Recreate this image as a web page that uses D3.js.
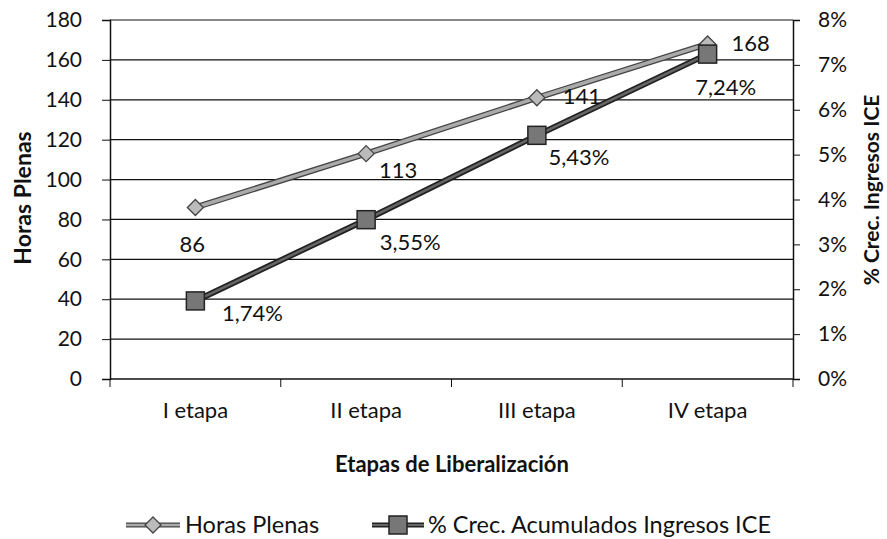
<!DOCTYPE html>
<html><head><meta charset="utf-8">
<script src="https://cdn.jsdelivr.net/npm/d3@7"></script>
<style>body{margin:0;background:#fff}svg{display:block}text{font-family:Lato,"Open Sans",sans-serif}</style>
</head><body><svg id="c" width="887" height="539"></svg>
<script>
const categories = ["I etapa","II etapa","III etapa","IV etapa"];
const horas = [86,113,141,168];
const crec = [1.74,3.55,5.43,7.24];
const crecLabels = ["1,74%","3,55%","5,43%","7,24%"];
const leftTicks = [0,20,40,60,80,100,120,140,160,180];
const rightTicks = [0,1,2,3,4,5,6,7,8];

const svg = d3.select("#c");
const L=110, R=793, T=20, B=379;
const FONT = "Lato, 'Open Sans', sans-serif";
const x = d3.scaleBand().domain(categories).range([L,R]);
const yL = d3.scaleLinear().domain([0,180]).range([B,T]);
const yR = d3.scaleLinear().domain([0,8]).range([B,T]);

// gridlines
svg.append("g").selectAll("line").data(leftTicks.slice(1)).join("line")
  .attr("x1",L).attr("x2",R).attr("y1",d=>yL(d)).attr("y2",d=>yL(d))
  .attr("stroke","#111").attr("stroke-width",1.2);

const axL = svg.append("g").attr("transform",`translate(${L},0)`)
  .call(d3.axisLeft(yL).tickValues(leftTicks).tickSize(8).tickPadding(20));
const axR = svg.append("g").attr("transform",`translate(${R},0)`)
  .call(d3.axisRight(yR).tickValues(rightTicks).tickSize(7).tickPadding(18).tickFormat(d=>d+"%"));
const axB = svg.append("g").attr("transform",`translate(0,${B})`)
  .call(d3.axisBottom(x).tickSize(0).tickPadding(23));
[axL,axR,axB].forEach(a=>{
  a.select(".domain").attr("stroke","#111").attr("stroke-width",1.5);
  a.selectAll(".tick line").attr("stroke","#111");
  a.selectAll("text").attr("font-size",21).attr("fill","#111").attr("font-family",FONT);
});
axB.selectAll("text").attr("font-size",22);
axB.select(".domain").attr("d",`M${L},0H${R}`);
// category separator ticks
svg.append("g").selectAll("line").data(categories.slice(1)).join("line")
  .attr("x1",d=>x(d)).attr("x2",d=>x(d)).attr("y1",B).attr("y2",B+8).attr("stroke","#111");
svg.append("g").selectAll("line").data([L,R]).join("line")
  .attr("x1",d=>d).attr("x2",d=>d).attr("y1",B).attr("y2",B+8).attr("stroke","#111");

const cx = d=>x(d)+x.bandwidth()/2;
const lineH = d3.line().x((d,i)=>cx(categories[i])).y(d=>yL(d));
const lineC = d3.line().x((d,i)=>cx(categories[i])).y(d=>yR(d));

svg.append("path").attr("d",lineH(horas)).attr("fill","none").attr("stroke","#444").attr("stroke-width",6);
svg.append("path").attr("d",lineH(horas)).attr("fill","none").attr("stroke","#aaa").attr("stroke-width",3.5);
svg.append("path").attr("d",lineC(crec)).attr("fill","none").attr("stroke","#222").attr("stroke-width",6);
svg.append("path").attr("d",lineC(crec)).attr("fill","none").attr("stroke","#666").attr("stroke-width",2.5);

const diamond = (g,px,py)=>g.append("path").attr("d",`M${px},${py-8}L${px+8},${py}L${px},${py+8}L${px-8},${py}Z`)
  .attr("fill","#bbb").attr("stroke","#444").attr("stroke-width",1.3);
const square = (g,px,py)=>g.append("rect").attr("x",px-9).attr("y",py-9).attr("width",18).attr("height",18)
  .attr("fill","#777").attr("stroke","#222").attr("stroke-width",1.5);

horas.forEach((v,i)=>diamond(svg,cx(categories[i]),yL(v)));
crec.forEach((v,i)=>square(svg,cx(categories[i]),yR(v)));

// data labels
const hLabOff = [[-3,37],[32,17],[45,-1],[43,-1]];
svg.append("g").selectAll("text").data(horas).join("text")
  .attr("x",(d,i)=>cx(categories[i])+hLabOff[i][0]).attr("y",(d,i)=>yL(d)+hLabOff[i][1])
  .attr("text-anchor","middle").attr("dy","0.35em")
  .attr("font-size",22).attr("fill","#111").text(d=>d);
const cLabOff = [[57,12],[44,23],[42,22],[18,33]];
svg.append("g").selectAll("text").data(crec).join("text")
  .attr("x",(d,i)=>cx(categories[i])+cLabOff[i][0]).attr("y",(d,i)=>yR(d)+cLabOff[i][1])
  .attr("text-anchor","middle").attr("dy","0.35em")
  .attr("font-size",22).attr("fill","#111").text((d,i)=>crecLabels[i]);

// titles
svg.append("text").attr("transform","translate(23,198) rotate(-90)").attr("text-anchor","middle").attr("dy","0.35em")
  .attr("font-size",23).attr("font-weight","bold").attr("fill","#111").text("Horas Plenas");
svg.append("text").attr("transform","translate(873,190) rotate(-90)").attr("text-anchor","middle").attr("dy","0.3em")
  .attr("font-size",21).attr("font-weight","bold").attr("fill","#111").text("% Crec. Ingresos ICE");
svg.append("text").attr("x",452).attr("y",472).attr("text-anchor","middle")
  .attr("font-size",22).attr("font-weight","bold").attr("fill","#111").text("Etapas de Liberalización");

// legend
const lg = svg.append("g");
const ly = 525;
lg.append("line").attr("x1",126).attr("x2",180).attr("y1",ly).attr("y2",ly).attr("stroke","#444").attr("stroke-width",5);
lg.append("line").attr("x1",126).attr("x2",180).attr("y1",ly).attr("y2",ly).attr("stroke","#aaa").attr("stroke-width",2.5);
diamond(lg,153,ly);
lg.append("text").attr("x",185).attr("y",ly).attr("dy","0.35em").attr("font-size",23.5).attr("fill","#111").text("Horas Plenas");
lg.append("line").attr("x1",372).attr("x2",424).attr("y1",ly).attr("y2",ly).attr("stroke","#222").attr("stroke-width",5);
lg.append("line").attr("x1",372).attr("x2",424).attr("y1",ly).attr("y2",ly).attr("stroke","#666").attr("stroke-width",2);
square(lg,398,ly);
lg.append("text").attr("x",428).attr("y",ly).attr("dy","0.35em").attr("font-size",23.5).attr("fill","#111").text("% Crec. Acumulados Ingresos ICE");
</script></body></html>
